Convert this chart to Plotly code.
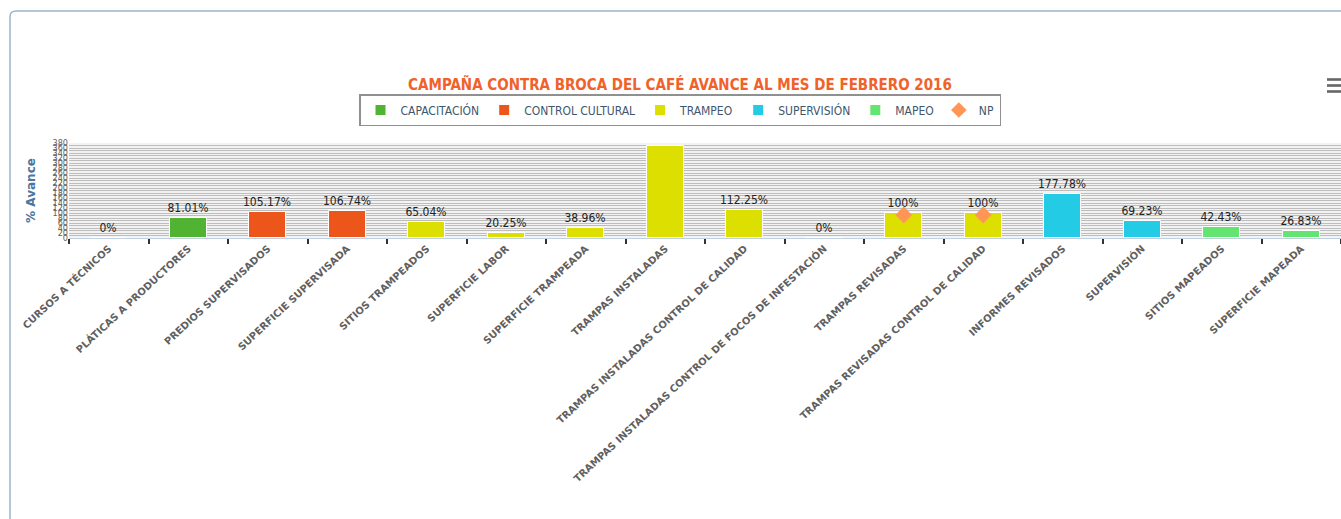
import plotly.graph_objects as go

categories = ["CURSOS A TÉCNICOS", "PLÁTICAS A PRODUCTORES", "PREDIOS SUPERVISADOS",
              "SUPERFICIE SUPERVISADA", "SITIOS TRAMPEADOS", "SUPERFICIE LABOR",
              "SUPERFICIE TRAMPEADA", "TRAMPAS INSTALADAS",
              "TRAMPAS INSTALADAS CONTROL DE CALIDAD",
              "TRAMPAS INSTALADAS CONTROL DE FOCOS DE INFESTACIÓN",
              "TRAMPAS REVISADAS", "TRAMPAS REVISADAS CONTROL DE CALIDAD",
              "INFORMES REVISADOS", "SUPERVISIÓN", "SITIOS MAPEADOS", "SUPERFICIE MAPEADA"]

capacitacion_x = categories[0:2]
capacitacion_y = [0, 81.01]
cultural_x = categories[2:4]
cultural_y = [105.17, 106.74]
trampeo_x = categories[4:12]
trampeo_y = [65.04, 20.25, 38.96, 368, 112.25, 0, 100, 100]
supervision_x = categories[12:14]
supervision_y = [177.78, 69.23]
mapeo_x = categories[14:16]
mapeo_y = [42.43, 26.83]
np_x = [categories[10], categories[11]]
np_y = [92, 92]
hidden_labels = ["TRAMPAS INSTALADAS"]  # label not shown in reference (outside plot)

series = [
    ("CAPACITACIÓN", capacitacion_x, capacitacion_y, "#50B432"),
    ("CONTROL CULTURAL", cultural_x, cultural_y, "#ED561B"),
    ("TRAMPEO", trampeo_x, trampeo_y, "#DDDF00"),
    ("SUPERVISIÓN", supervision_x, supervision_y, "#24CBE5"),
    ("MAPEO", mapeo_x, mapeo_y, "#64E572"),
]

COND = "DejaVu Sans Condensed, Liberation Sans Narrow, Roboto Condensed, DejaVu Sans, sans-serif"

fig = go.Figure()
for name, xs, ys, color in series:
    texts = ["" if x in hidden_labels else f"{y:g}%" for x, y in zip(xs, ys)]
    fig.add_trace(go.Bar(
        name=name, x=xs, y=ys, marker=dict(color=color, line=dict(color="white", width=1)),
        width=0.47, text=texts, textposition="outside", cliponaxis=False,
        constraintext="none",
        textfont=dict(family=COND, size=12, color="#222"), hoverinfo="x+y",
    ))
fig.add_trace(go.Scatter(
    name="NP", x=np_x, y=np_y, mode="markers",
    marker=dict(symbol="diamond", size=13, color="#FF9655"),
))

# layout geometry (pixels)
W, H = 1341, 519
L, R, T, B = 69, 0, 143, 281
pw, ph = W - L - R, H - T - B

def px(x):
    return (x - L) / pw

def py(y):
    return (H - B - y) / ph

shapes = [
    dict(type="path", xref="paper", yref="paper",
         path=f"M {px(10)},{py(600)} L {px(10)},{py(17)} Q {px(10)},{py(11)} {px(16)},{py(11)} L {px(1400)},{py(11)}",
         line=dict(color="#9fb3cc", width=1.5), layer="below"),
]
for yy in (79.5, 85.5, 91.5):
    shapes.append(dict(type="rect", xref="paper", yref="paper",
                       x0=px(1327), x1=px(1341), y0=py(yy - 1.3), y1=py(yy + 1.3),
                       fillcolor="#666666", line=dict(width=0)))

fig.update_layout(
    width=W, height=H, margin=dict(l=L, r=R, t=T, b=B),
    paper_bgcolor="white", plot_bgcolor="#f3f3f3",
    barmode="overlay", bargap=0,
    title=dict(text="<b>CAMPAÑA CONTRA BROCA DEL CAFÉ AVANCE AL MES DE FEBRERO 2016</b>",
               x=680 / W, xanchor="center", y=1 - 85 / H, yanchor="middle",
               font=dict(family=COND, size=15, color="#F0622A")),
    legend=dict(orientation="h", x=px(680), xanchor="center", y=py(110), yanchor="middle",
                bgcolor="white", bordercolor="#909090", borderwidth=1.5,
                font=dict(family=COND, size=12, color="#3E576F"),
                itemwidth=30, itemsizing="constant", traceorder="normal"),
    xaxis=dict(type="category", categoryorder="array", categoryarray=categories,
               range=[-0.5, len(categories) - 0.5],
               tickson="boundaries", ticks="outside", ticklen=5, tickwidth=2, tickcolor="#333",
               tickangle=-43, showgrid=False, showline=True, linecolor="#C0D0E0", linewidth=1,
               tickfont=dict(family="DejaVu Sans, sans-serif", size=10, color="#606060", weight="bold")),
    yaxis=dict(range=[0, 380], dtick=20, tick0=0, showgrid=True, gridcolor="#bdbdbd", gridwidth=1,
               minor=dict(dtick=10, showgrid=True, gridcolor="#bdbdbd", gridwidth=1),
               zeroline=False, showline=False, ticks="",
               tickfont=dict(family=COND, size=9, color="#606060"),
               title=dict(text="<b>% Avance</b>", standoff=14,
                          font=dict(family="DejaVu Sans, sans-serif", size=12, color="#4d759e"))),
    shapes=shapes,
    showlegend=True,
)

fig.write_html("out.html", config={"displayModeBar": False},
               post_script="document.body.style.margin='0px';")
